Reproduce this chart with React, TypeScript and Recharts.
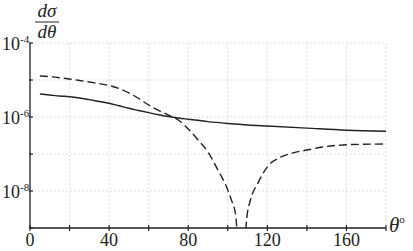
import { LineChart, Line, XAxis, YAxis, CartesianGrid } from 'recharts';

// solid curve
const solidAngles = [5, 10, 15, 20, 25, 30, 35, 40, 45, 50, 55, 60, 65, 70, 75, 80, 90, 100, 110, 120, 140, 160, 180];
const solidValues = [
  4.19e-6, 3.94e-6, 3.7e-6, 3.54e-6, 3.27e-6, 2.94e-6, 2.63e-6, 2.35e-6, 2.01e-6, 1.72e-6, 1.5e-6, 1.31e-6,
  1.15e-6, 1.03e-6, 9.4e-7, 8.7e-7, 7.5e-7, 6.7e-7, 6.1e-7, 5.7e-7, 5.0e-7, 4.4e-7, 4.1e-7,
];

// dashed curve (drops to zero near 107 deg)
const dashedAngles = [
  5, 10, 15, 20, 25, 30, 35, 40, 45, 50, 55, 60, 65, 70, 75, 80, 85, 90, 95, 100, 102, 104, 107,
  109.5, 111.5, 115, 120, 127, 133, 140, 148, 157, 168, 180,
];
const dashedValues = [
  1.28e-5, 1.23e-5, 1.15e-5, 1.06e-5, 9.7e-6, 8.8e-6, 8.0e-6, 7.1e-6, 5.9e-6, 4.46e-6, 3.16e-6, 2.11e-6,
  1.5e-6, 1.13e-6, 8.3e-7, 4.74e-7, 2.39e-7, 1.13e-7, 3.7e-8, 1.07e-8, 5.4e-9, 2.2e-9, 1e-11,
  1.65e-9, 5.8e-9, 1.55e-8, 4.5e-8, 8.3e-8, 1.07e-7, 1.28e-7, 1.55e-7, 1.74e-7, 1.83e-7, 1.86e-7,
];

const xTicks = [0, 20, 40, 60, 80, 100, 120, 140, 160, 180];
const xLabels = [0, 40, 80, 120, 160];
const yTicks = [1e-9, 1e-8, 1e-7, 1e-6, 1e-5, 1e-4];
const yLabelExps = [-4, -6, -8];

const solid = solidAngles.map((a, i) => ({ a, v: solidValues[i] }));
const dashed = dashedAngles.map((a, i) => ({ a, v: dashedValues[i] }));

const serif = 'Liberation Serif, Times New Roman, serif';
const ink = '#222';

const YTick = (props: any) => {
  const { x, y, payload } = props;
  const exp = Math.round(Math.log10(payload.value));
  return (
    <g>
      <line x1={x - 1} x2={x + 3} y1={y} y2={y} stroke={ink} strokeWidth={1.2} />
      {yLabelExps.includes(exp) && (
        <text x={2} y={y + 7} fontFamily={serif} fontSize={18} fill={ink}>
          10
          <tspan dy={-7} fontSize={11}>{String(exp)}</tspan>
        </text>
      )}
    </g>
  );
};

const XTick = (props: any) => {
  const { x, y, payload } = props;
  return (
    <g>
      <line x1={x} x2={x} y1={y - 3} y2={y + 3} stroke={ink} strokeWidth={1.2} />
      {xLabels.includes(payload.value) && (
        <text x={x} y={y + 18} textAnchor="middle" fontFamily={serif} fontSize={18} fill={ink}>
          {payload.value}
        </text>
      )}
    </g>
  );
};

export default function App() {
  return (
    <div style={{ position: 'absolute', left: 0, top: 0, background: '#fff' }}>
      <LineChart
        width={413}
        height={251}
        margin={{ top: 43, right: 27, left: 0, bottom: 0 }}
      >
        <CartesianGrid stroke="#ddd" strokeDasharray="2 2" />
        <XAxis
          dataKey="a"
          type="number"
          domain={[0, 180]}
          ticks={xTicks}
          height={23}
          tickSize={0}
          tickMargin={0}
          tickLine={false}
          tick={<XTick />}
          axisLine={{ stroke: ink, strokeWidth: 1.3 }}
          allowDuplicatedCategory={false}
        />
        <YAxis
          type="number"
          scale="log"
          domain={[1e-9, 1e-4]}
          ticks={yTicks}
          allowDataOverflow
          width={30}
          tickSize={0}
          tickMargin={0}
          tickLine={false}
          tick={<YTick />}
          axisLine={{ stroke: ink, strokeWidth: 1.3 }}
        />
        <Line
          data={solid}
          dataKey="v"
          type="monotone"
          stroke={ink}
          strokeWidth={1.4}
          dot={false}
          isAnimationActive={false}
        />
        <Line
          data={dashed}
          dataKey="v"
          type="monotone"
          stroke={ink}
          strokeWidth={1.4}
          strokeDasharray="8 4"
          dot={false}
          isAnimationActive={false}
        />
        <text x={47} y={17} textAnchor="middle" fontFamily={serif} fontStyle="italic" fontSize={19} fill={ink}>
          dσ
        </text>
        <line x1={35} x2={59} y1={22} y2={22} stroke={ink} strokeWidth={1} />
        <text x={47} y={38} textAnchor="middle" fontFamily={serif} fontStyle="italic" fontSize={19} fill={ink}>
          dθ
        </text>
        <text x={389} y={232} fontFamily={serif} fontStyle="italic" fontSize={21} fill={ink}>
          θ
          <tspan dy={-9} fontSize={11} fontStyle="normal">o</tspan>
        </text>
      </LineChart>
    </div>
  );
}
